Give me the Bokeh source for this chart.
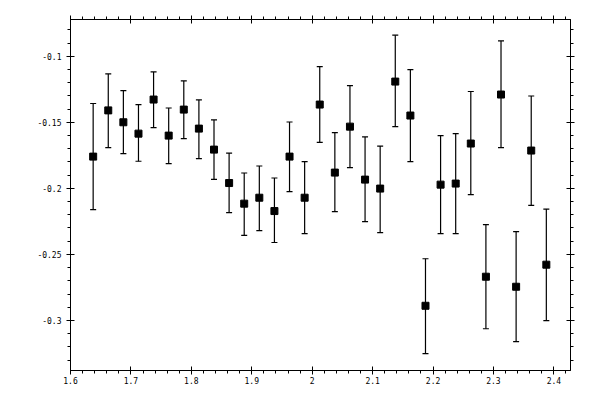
from bokeh.plotting import figure
from bokeh.models import (ColumnDataSource, Range1d, LinearAxis, SingleIntervalTicker,
                          CustomJSTickFormatter, Whisker, TeeHead)
from bokeh.embed import file_html
from bokeh.resources import INLINE

x = [1.6375 + 0.025 * i for i in range(31)]
y = [-0.176, -0.141, -0.150, -0.1586, -0.1328, -0.1601, -0.1404, -0.1548, -0.1707, -0.196,
     -0.2116, -0.2071, -0.2172, -0.176, -0.2071, -0.1366, -0.1881, -0.1533, -0.1934, -0.2002,
     -0.1192, -0.1449, -0.2889, -0.1972, -0.1964, -0.1661, -0.2669, -0.129, -0.2745, -0.1714,
     -0.2578]
y_hi = [-0.1358, -0.1134, -0.126, -0.1366, -0.1119, -0.1392, -0.1187, -0.1331, -0.1482, -0.1733,
        -0.1884, -0.1831, -0.1922, -0.1498, -0.1798, -0.1078, -0.1578, -0.1222, -0.1611, -0.168,
        -0.0841, -0.1101, -0.2533, -0.1601, -0.1586, -0.1267, -0.2275, -0.0884, -0.2328, -0.1301,
        -0.2157]
y_lo = [-0.2161, -0.1692, -0.1737, -0.1795, -0.154, -0.1813, -0.1623, -0.1775, -0.1932, -0.2184,
        -0.2356, -0.232, -0.241, -0.2025, -0.2343, -0.1652, -0.2177, -0.1843, -0.2252, -0.2336,
        -0.1533, -0.1798, -0.3252, -0.2343, -0.2343, -0.2048, -0.3063, -0.1692, -0.3161, -0.2129,
        -0.3002]

src = ColumnDataSource(dict(x=x, y=y, hi=y_hi, lo=y_lo))

p = figure(width=592, height=392, output_backend="svg", toolbar_location=None,
           x_range=Range1d(1.6, 2.4275), y_range=Range1d(-0.3379, -0.0722),
           x_axis_location=None, y_axis_location=None,
           min_border_left=70, min_border_right=22, min_border_top=19, min_border_bottom=22)
p.xgrid.visible = False
p.ygrid.visible = False
p.outline_line_color = "black"
p.background_fill_color = "white"
p.border_fill_color = "white"

fmt_code = "return String(Math.round(tick*1e6)/1e6);"

def make_axis(kind, show_labels):
    if kind == "x":
        ticker = SingleIntervalTicker(interval=0.1, num_minor_ticks=5)
    else:
        ticker = SingleIntervalTicker(interval=0.05, num_minor_ticks=5)
    ax = LinearAxis(ticker=ticker, formatter=CustomJSTickFormatter(code=fmt_code))
    ax.axis_line_color = "black"
    ax.axis_line_width = 1
    ax.major_tick_line_color = "black"
    ax.minor_tick_line_color = "black"
    ax.major_tick_in = 4
    ax.major_tick_out = 4
    ax.minor_tick_in = 0
    ax.minor_tick_out = 3
    ax.major_label_text_font = "DejaVu Sans Mono"
    ax.major_label_text_font_size = "8px"
    ax.major_label_text_color = "black"
    if not show_labels:
        ax.major_label_text_font_size = "0px"
        ax.major_label_text_color = None
    return ax

bx = make_axis("x", True)
bx.major_label_standoff = 2
p.add_layout(bx, "below")
ly = make_axis("y", True)
ly.major_label_standoff = 5
p.add_layout(ly, "left")
p.add_layout(make_axis("x", False), "above")
p.add_layout(make_axis("y", False), "right")

w = Whisker(source=src, base="x", upper="hi", lower="lo", line_color="black", line_width=1.2,
            upper_head=TeeHead(size=6, line_color="black", line_width=1.2),
            lower_head=TeeHead(size=6, line_color="black", line_width=1.2))
p.add_layout(w)
p.scatter("x", "y", source=src, marker="square", size=7, fill_color="black", line_color="black")

open("out.html", "w").write(file_html(p, INLINE))
